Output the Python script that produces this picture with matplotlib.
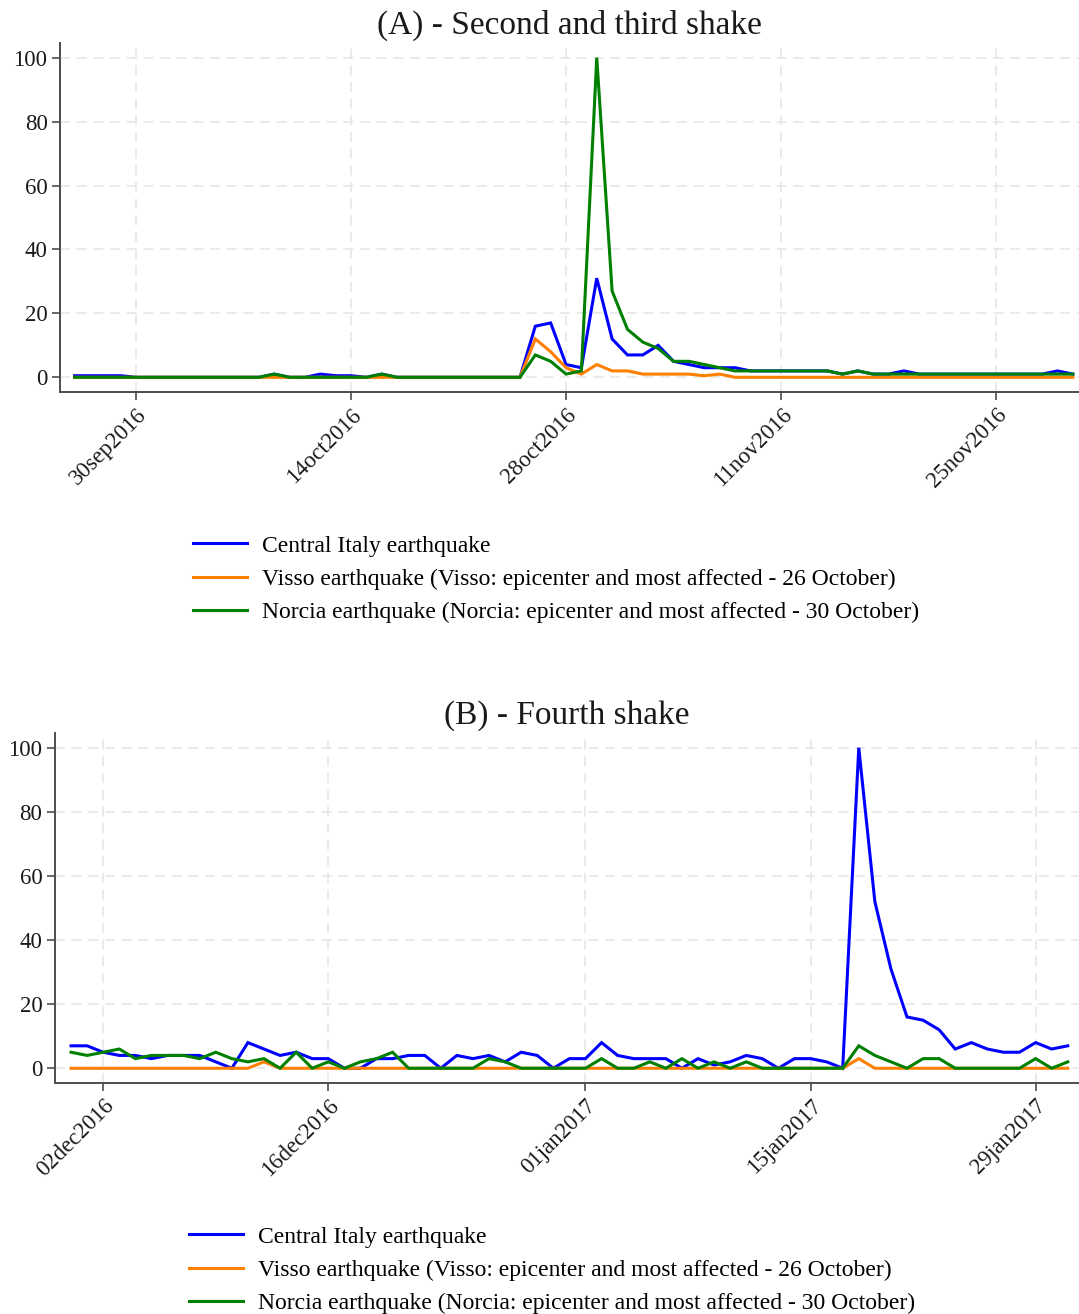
import numpy as np
import pandas as pd
import matplotlib
matplotlib.use('Agg')
import matplotlib.pyplot as plt

plt.rcParams['font.family'] = ['Liberation Serif', 'DejaVu Serif']

# ---- panel A: 26sep2016 - 30nov2016, daily
dates_a = pd.date_range('2016-09-26', '2016-11-30', freq='D')
central_a = [0.5, 0.5, 0.5, 0.5, 0, 0, 0, 0, 0, 0, 0, 0, 0, 1, 0, 0, 1, 0.5, 0.5, 0,
             1, 0, 0, 0, 0, 0, 0, 0, 0, 0, 16, 17, 4, 3, 31, 12, 7, 7, 10, 5,
             4, 3, 3, 3, 2, 2, 2, 2, 2, 2, 1, 2, 1, 1, 2, 1, 1, 1, 1, 1,
             1, 1, 1, 1, 2, 1]
visso_a = [0, 0, 0, 0, 0, 0, 0, 0, 0, 0, 0, 0, 0, 0, 0, 0, 0, 0, 0, 0,
           0, 0, 0, 0, 0, 0, 0, 0, 0, 0, 12, 8, 3, 1, 4, 2, 2, 1, 1, 1,
           1, 0.5, 1, 0, 0, 0, 0, 0, 0, 0, 0, 0, 0, 0, 0, 0, 0, 0, 0, 0,
           0, 0, 0, 0, 0, 0]
norcia_a = [0, 0, 0, 0, 0, 0, 0, 0, 0, 0, 0, 0, 0, 1, 0, 0, 0, 0, 0, 0,
            1, 0, 0, 0, 0, 0, 0, 0, 0, 0, 7, 5, 1, 2, 100, 27, 15, 11, 9, 5,
            5, 4, 3, 2, 2, 2, 2, 2, 2, 2, 1, 2, 1, 1, 1, 1, 1, 1, 1, 1,
            1, 1, 1, 1, 1, 1]
ticks_a = ['2016-09-30', '2016-10-14', '2016-10-28', '2016-11-11', '2016-11-25']
ticklabels_a = ['30sep2016', '14oct2016', '28oct2016', '11nov2016', '25nov2016']

# ---- panel B: 30nov2016 - 31jan2017, daily
dates_b = pd.date_range('2016-11-30', '2017-01-31', freq='D')
central_b = [7, 7, 5, 4, 4, 3, 4, 4, 4, 2, 0, 8, 6, 4, 5, 3, 3, 0, 0, 3,
             3, 4, 4, 0, 4, 3, 4, 2, 5, 4, 0, 3, 3, 8, 4, 3, 3, 3, 0, 3,
             1, 2, 4, 3, 0, 3, 3, 2, 0, 100, 52, 31, 16, 15, 12, 6, 8, 6, 5, 5,
             8, 6, 7]
visso_b = [0, 0, 0, 0, 0, 0, 0, 0, 0, 0, 0, 0, 2, 0, 0, 0, 0, 0, 0, 0,
           0, 0, 0, 0, 0, 0, 0, 0, 0, 0, 0, 0, 0, 0, 0, 0, 0, 0, 0, 0,
           0, 0, 0, 0, 0, 0, 0, 0, 0, 3, 0, 0, 0, 0, 0, 0, 0, 0, 0, 0,
           0, 0, 0]
norcia_b = [5, 4, 5, 6, 3, 4, 4, 4, 3, 5, 3, 2, 3, 0, 5, 0, 2, 0, 2, 3,
            5, 0, 0, 0, 0, 0, 3, 2, 0, 0, 0, 0, 0, 3, 0, 0, 2, 0, 3, 0,
            2, 0, 2, 0, 0, 0, 0, 0, 0, 7, 4, 2, 0, 3, 3, 0, 0, 0, 0, 0,
            3, 0, 2]
ticks_b = ['2016-12-02', '2016-12-16', '2017-01-01', '2017-01-15', '2017-01-29']
ticklabels_b = ['02dec2016', '16dec2016', '01jan2017', '15jan2017', '29jan2017']

labels = ['Central Italy earthquake',
          'Visso earthquake (Visso: epicenter and most affected - 26 October)',
          'Norcia earthquake (Norcia: epicenter and most affected - 30 October)']
colors = ['#0000ff', '#ff8000', '#008000']

W, H = 1079, 1314
fig = plt.figure(figsize=(W / 100, H / 100), dpi=100)


def panel(rect, dates, series, ticks, ticklabels, title, xpad, leg_xy):
    l, t, r, b = rect
    ax = fig.add_axes([l / W, 1 - b / H, (r - l) / W, (b - t) / H])
    lines = []
    for ys, c in zip(series, colors):
        ln, = ax.plot(dates, ys, color=c, lw=2.2, solid_joinstyle='miter')
        lines.append(ln)
    ax.set_ylim(-4.6, 104.6)
    ax.set_xlim(dates[0] - pd.Timedelta(days=xpad[0]), dates[-1] + pd.Timedelta(days=xpad[1]))
    ax.set_yticks([0, 20, 40, 60, 80, 100])
    ax.set_xticks(pd.to_datetime(ticks))
    ax.set_xticklabels(ticklabels, rotation=45, ha='right', va='top',
                       rotation_mode='anchor')
    ax.tick_params(axis='both', labelsize=16.5, length=6, width=1.2,
                   color='#4d4d4d', labelcolor='#1a1a1a', pad=3)
    for s in ['top', 'right']:
        ax.spines[s].set_visible(False)
    for s in ['left', 'bottom']:
        ax.spines[s].set_color('#4d4d4d')
        ax.spines[s].set_linewidth(1.4)
    ax.grid(True, color='#e6e6e6', lw=1.2, ls=(0, (6, 4)))
    ax.set_axisbelow(True)
    ax.set_title(title, fontsize=24, pad=7, color='#1a1a1a')
    fig.legend(lines, labels, loc='upper left',
               bbox_to_anchor=(leg_xy[0] / W, 1 - leg_xy[1] / H),
               frameon=False, fontsize=17, handlelength=2.3,
               handletextpad=0.62, labelspacing=0.5, borderpad=0,
               borderaxespad=0)
    return ax


panel((60, 43, 1079, 392), dates_a, [central_a, visso_a, norcia_a],
      ticks_a, ticklabels_a, '(A) - Second and third shake', (0.95, 0.4),
      (193, 535))
panel((55, 733, 1079, 1083), dates_b, [central_b, visso_b, norcia_b],
      ticks_b, ticklabels_b, '(B) - Fourth shake', (1.0, 0.7),
      (189, 1226))

fig.savefig('out.png', dpi=100)
